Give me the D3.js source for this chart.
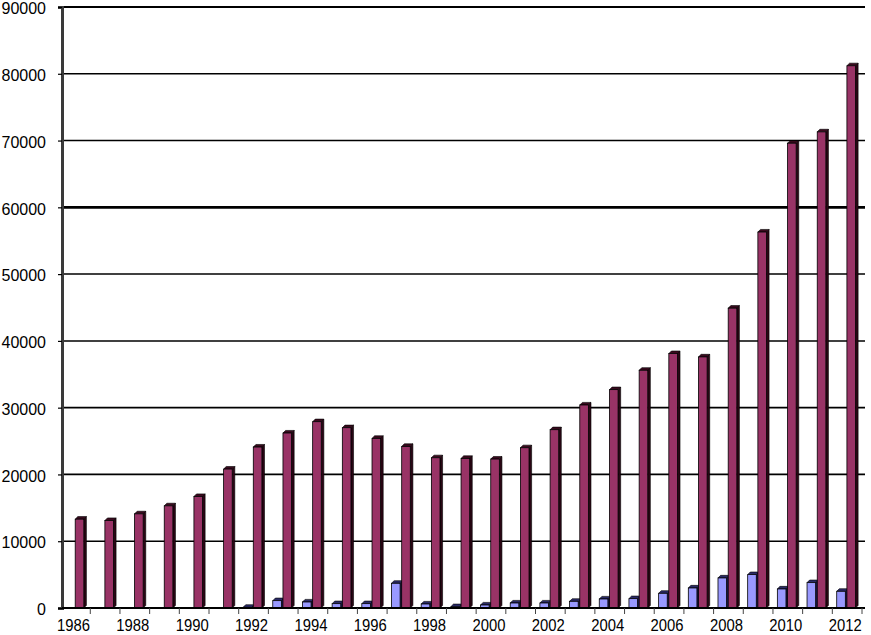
<!DOCTYPE html>
<html>
<head>
<meta charset="utf-8">
<script src="https://cdn.jsdelivr.net/npm/d3@7"></script>
<style>
  html, body { margin: 0; padding: 0; background: #fff; }
  svg { display: block; }
  text { font-family: "Liberation Sans", Arial, sans-serif; fill: #000; }
</style>
</head>
<body>
<svg id="chart" width="871" height="635"></svg>
<script>
const years = [1986, 1987, 1988, 1989, 1990, 1991, 1992, 1993, 1994, 1995, 1996, 1997, 1998, 1999,
               2000, 2001, 2002, 2003, 2004, 2005, 2006, 2007, 2008, 2009, 2010, 2011, 2012];
const seriesBlue = [0, 0, 0, 0, 0, 0, 100, 1100, 900, 650, 650, 3700, 600, 200,
                    450, 750, 750, 1000, 1350, 1400, 2200, 3000, 4500, 5000, 2850, 3800, 2500];
const seriesMaroon = [13300, 13100, 14100, 15300, 16700, 20800, 24100, 26200, 27900, 27000, 25400, 24200, 22500, 22400,
                      22300, 24000, 26700, 30400, 32700, 35600, 38100, 37600, 44900, 56300, 69600, 71300, 81200];
const yTicks = [0, 10000, 20000, 30000, 40000, 50000, 60000, 70000, 80000, 90000];
const xTickLabels = [1986, 1988, 1990, 1992, 1994, 1996, 1998, 2000, 2002, 2004, 2006, 2008, 2010, 2012];

const svg = d3.select("#chart");
const x = d3.scaleBand().domain(years).range([60.6, 862]).padding(0);
const y = d3.scaleLinear().domain([0, 90000]).range([608, 7]);

const plotLeft = 62, plotRight = 865;

// gridlines
const gridW = v => (v === 90000 ? 2 : v === 60000 ? 2.6 : (v === 20000 || v === 30000) ? 1.8 : 1.5);
svg.append("g").selectAll("line").data(yTicks.filter(v => v > 0)).join("line")
  .attr("x1", plotLeft).attr("x2", plotRight)
  .attr("y1", d => y(d)).attr("y2", d => y(d))
  .attr("stroke", "#000").attr("stroke-width", gridW);

// y axis
const yAxis = svg.append("g").attr("transform", `translate(${plotLeft},0)`)
  .call(d3.axisLeft(y).tickValues(yTicks).tickSize(4).tickPadding(12).tickFormat(d3.format("d")));
yAxis.select(".domain").attr("stroke", "#3a3a3a").attr("stroke-width", 3);
yAxis.selectAll(".tick line").attr("stroke", "#000").attr("stroke-width", 1.2);
yAxis.selectAll(".tick text").attr("font-size", 16).attr("dy", "0.42em")
  .style("font-family", "'Liberation Sans', Arial, sans-serif");

// bars (pseudo 3D)
const dx = 2.6, dy = 2.6, w = 8.6;
const series = [
  { values: seriesBlue, offset: 4.4, front: "#9999ff", side: "#1b1b55", top: "#2a2a66" },
  { values: seriesMaroon, offset: 14.6, front: "#993366", side: "#2a0614", top: "#3a0a1e" }
];
const y0 = y(0);
series.forEach(s => {
  const g = svg.append("g");
  const data = years.map((yr, i) => ({ yr, v: s.values[i] })).filter(d => d.v > 0);
  const bars = g.selectAll("g").data(data).join("g");
  bars.append("polygon") // side
    .attr("points", d => {
      const x0 = x(d.yr) + s.offset + w, yt = y(d.v);
      return [[x0, yt], [x0 + dx, yt - dy], [x0 + dx, y0 - dy], [x0, y0]].join(" ");
    })
    .attr("fill", s.side).attr("stroke", "#000").attr("stroke-width", 0.6);
  bars.append("polygon") // top
    .attr("points", d => {
      const x0 = x(d.yr) + s.offset, yt = y(d.v);
      return [[x0, yt], [x0 + dx, yt - dy], [x0 + w + dx, yt - dy], [x0 + w, yt]].join(" ");
    })
    .attr("fill", s.top).attr("stroke", "#000").attr("stroke-width", 0.6);
  bars.append("rect") // front
    .attr("x", d => x(d.yr) + s.offset)
    .attr("y", d => y(d.v))
    .attr("width", w)
    .attr("height", d => y0 - y(d.v))
    .attr("fill", s.front).attr("stroke", "#000").attr("stroke-width", 0.8);
});

// x axis baseline
svg.append("line").attr("x1", plotLeft).attr("x2", plotRight).attr("y1", y0).attr("y2", y0)
  .attr("stroke", "#000").attr("stroke-width", 2.2);

// boundary ticks
const bounds = years.map(yr => x(yr)).concat([x(years[years.length - 1]) + x.bandwidth()]);
svg.append("g").selectAll("line").data(bounds.slice(1)).join("line")
  .attr("x1", d => d).attr("x2", d => d).attr("y1", y0).attr("y2", y0 + 6)
  .attr("stroke", "#444").attr("stroke-width", 1);

// x labels
const xAxis = svg.append("g").attr("transform", `translate(-2,${y0})`)
  .call(d3.axisBottom(x).tickValues(xTickLabels).tickSize(0).tickPadding(12));
xAxis.select(".domain").remove();
xAxis.selectAll(".tick text").attr("font-size", 16).attr("dy", "0.71em")
  .attr("textLength", 33).attr("lengthAdjust", "spacingAndGlyphs")
  .style("font-family", "'Liberation Sans', Arial, sans-serif");
</script>
</body>
</html>
